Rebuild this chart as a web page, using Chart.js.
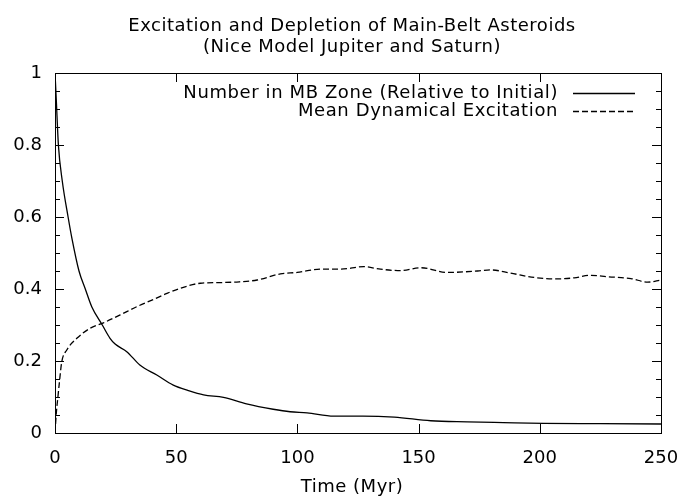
<!DOCTYPE html>
<html>
<head>
<meta charset="utf-8">
<script src="https://cdn.jsdelivr.net/npm/chart.js@4/dist/chart.umd.min.js"></script>
<style>
  body { margin: 0; background: #fff; }
  #wrap { width: 686px; height: 500px; }
</style>
</head>
<body>
<div id="wrap"><canvas id="myChart"></canvas></div>
<script>
// values
var titleLines = ["Excitation and Depletion of Main-Belt Asteroids", "(Nice Model Jupiter and Saturn)"];
var xTitle = "Time (Myr)";
var labelNumber = "Number in MB Zone (Relative to Initial)";
var labelExcite = "Mean Dynamical Excitation";

var timeNumber = [0, 0.5, 1.4, 3, 5.4, 7, 9.9, 12.5, 15.2, 19.5, 22.7, 24.8, 29.6, 35, 42, 48.8, 55, 61.3, 69.5, 79, 90, 97, 104, 115, 127, 140, 155, 170, 185, 201.6, 225, 250];
var numberInMB = [1, 0.93, 0.8, 0.7, 0.6, 0.54, 0.45, 0.4, 0.35, 0.3, 0.263, 0.247, 0.226, 0.189, 0.161, 0.133, 0.118, 0.106, 0.099, 0.081, 0.066, 0.059, 0.056, 0.047, 0.047, 0.044, 0.034, 0.031, 0.029, 0.027, 0.026, 0.025];

var timeExcite = [0, 0.6, 1.2, 1.8, 2.8, 4.8, 9, 14.5, 20, 26.9, 33.8, 40.6, 46.2, 51.7, 60, 69.5, 76, 83.4, 93, 99.9, 109.5, 117.8, 127.4, 134.3, 142.6, 151, 161.9, 174.3, 179.8, 188, 197.7, 207.3, 214.2, 221, 228, 237.6, 244.5, 250];
var excitation = [0, 0.06, 0.1, 0.14, 0.198, 0.23, 0.263, 0.291, 0.306, 0.328, 0.351, 0.371, 0.388, 0.402, 0.416, 0.418, 0.42, 0.425, 0.442, 0.446, 0.455, 0.455, 0.462, 0.455, 0.451, 0.459, 0.446, 0.45, 0.453, 0.444, 0.432, 0.428, 0.431, 0.438, 0.434, 0.429, 0.419, 0.425];

var xTicks = [0, 50, 100, 150, 200, 250];
var yTicks = [0, 0.2, 0.4, 0.6, 0.8, 1];
var FONT = "'DejaVu Sans', sans-serif";

function toPoints(xs, ys){
    var out = [];
    for (var i = 0; i < xs.length; i++) out.push({x: xs[i], y: ys[i]});
    return out;
}

// gnuplot look: frame, inward ticks, title, key
var gnuplotBits = {
    id: 'gnuplotBits',
    afterDraw: function(chart){
        var ctx = chart.ctx;
        var a = chart.chartArea;
        var xs = chart.scales.x, ys = chart.scales.y;
        ctx.save();
        ctx.strokeStyle = '#000';
        ctx.lineWidth = 1;
        ctx.setLineDash([]);
        ctx.strokeRect(a.left + 0.5, a.top + 0.5, a.right - a.left, a.bottom - a.top);

        ctx.beginPath();
        // y ticks, major every 0.2 and minor every 0.05
        for (var k = 1; k < 20; k++){
            var v = k * 0.05;
            var py = Math.round(ys.getPixelForValue(v)) + 0.5;
            var len = (k % 4 === 0) ? 9 : 5;
            ctx.moveTo(a.left, py); ctx.lineTo(a.left + len, py);
            ctx.moveTo(a.right, py); ctx.lineTo(a.right - len, py);
        }
        // x ticks every 50
        for (var t = 50; t < 250; t += 50){
            var px = Math.round(xs.getPixelForValue(t)) + 0.5;
            ctx.moveTo(px, a.bottom); ctx.lineTo(px, a.bottom - 9);
            ctx.moveTo(px, a.top); ctx.lineTo(px, a.top + 9);
        }
        ctx.stroke();

        ctx.fillStyle = '#000';
        ctx.font = '18px ' + FONT;
        ctx.letterSpacing = '0.5px';
        ctx.textAlign = 'center';
        ctx.textBaseline = 'alphabetic';
        ctx.fillText(titleLines[0], 352, 31);
        ctx.fillText(titleLines[1], 352, 52);
        ctx.fillText(xTitle, 352, 492);

        // key
        ctx.letterSpacing = '0.6px';
        ctx.textAlign = 'right';
        ctx.textBaseline = 'middle';
        ctx.fillText(labelNumber, 558, 93);
        ctx.fillText(labelExcite, 558, 111);
        ctx.lineWidth = 1.3;
        ctx.beginPath();
        ctx.moveTo(573, 93.5); ctx.lineTo(635, 93.5);
        ctx.stroke();
        ctx.setLineDash([6, 3]);
        ctx.beginPath();
        ctx.moveTo(573, 111.5); ctx.lineTo(635, 111.5);
        ctx.stroke();
        ctx.restore();
    }
};

var ctx = document.getElementById('myChart').getContext('2d');
var myChart = new Chart(ctx, {
    type: 'line',
    data: {
        datasets: [{
            label: labelNumber,
            data: toPoints(timeNumber, numberInMB),
            borderColor: '#000',
            borderWidth: 1.3,
            pointRadius: 0,
            fill: false,
            cubicInterpolationMode: 'monotone'
        }, {
            label: labelExcite,
            data: toPoints(timeExcite, excitation),
            borderColor: '#000',
            borderWidth: 1.3,
            borderDash: [6, 3],
            pointRadius: 0,
            fill: false,
            cubicInterpolationMode: 'monotone'
        }]
    },
    options: {
        responsive: true,
        maintainAspectRatio: false,
        animation: false,
        layout: { padding: { top: 73, right: 25, left: 0, bottom: 0 } },
        plugins: {
            legend: { display: false },
            title: { display: false },
            tooltip: { enabled: false }
        },
        scales: {
            x: {
                type: 'linear',
                min: 0, max: 250,
                grid: { display: false, drawTicks: false },
                border: { display: false },
                afterBuildTicks: function(scale){
                    scale.ticks = xTicks.map(function(v){ return {value: v}; });
                },
                ticks: {
                    padding: 15,
                    color: '#000',
                    font: { family: FONT, size: 18 },
                    maxRotation: 0
                },
                afterFit: function(scale){
                    scale.height = 67;
                    scale.paddingRight = 0;
                    scale.paddingLeft = 0;
                }
            },
            y: {
                min: 0, max: 1,
                grid: { display: false, drawTicks: false },
                border: { display: false },
                afterBuildTicks: function(scale){
                    scale.ticks = yTicks.map(function(v){ return {value: v}; });
                },
                ticks: {
                    padding: 13,
                    color: '#000',
                    font: { family: FONT, size: 18 },
                    callback: function(v){ return String(+v.toFixed(2)); }
                },
                afterFit: function(scale){
                    scale.width = 55;
                    scale.paddingTop = 0;
                    scale.paddingBottom = 0;
                }
            }
        }
    },
    plugins: [gnuplotBits]
});
</script>
</body>
</html>
